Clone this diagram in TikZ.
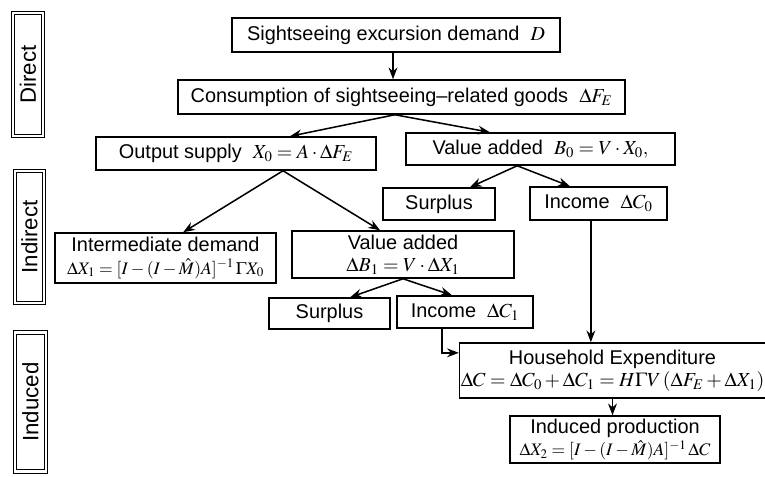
\documentclass[tikz,border=0pt]{standalone}
\usepackage{mathptmx}
\usepackage[no-math]{fontspec}
\setmainfont{Liberation Sans}
\usetikzlibrary{arrows.meta}

\newcommand\smallfml[1]{{\fontsize{15}{18}\selectfont$#1$}}

\begin{document}
\begin{tikzpicture}[x=0.03cm, y=-0.03cm,
    box/.style={draw, line width=1.3pt, inner sep=1pt, align=center,
      font=\fontsize{17}{19}\selectfont},
    stage/.style={draw, line width=1pt, double, double distance=1.8pt,
      rotate=90, font=\fontsize{19}{22}\selectfont},
    flow/.style={-{Stealth[length=10pt,width=7.5pt]}, line width=1.3pt}]
  \useasboundingbox (0,0) rectangle (765,476);

  % stages on the left
  \node[stage, minimum width=3.69cm, minimum height=0.9cm] (direct) at (28,74.5) {Direct};
  \node[stage, minimum width=3.96cm, minimum height=0.87cm] (indirect) at (29.5,237) {Indirect};
  \node[stage, minimum width=4.17cm, minimum height=0.93cm] (induced) at (30.5,402) {Induced};

  % direct effect
  \node[box, minimum width=9.84cm, minimum height=1.02cm] (demand) at (396,35)
    {Sightseeing excursion demand\ \ $D$};
  \node[box, minimum width=13.41cm, minimum height=1.02cm] (cons) at (401.5,97)
    {Consumption of sightseeing–related goods\ \ $\Delta F_E$};
  \node[box, minimum width=8.4cm, minimum height=0.99cm] (output) at (236,153.5)
    {Output supply\ \ $X_0 = A\cdot\Delta F_E$};
  \node[box, minimum width=8.07cm, minimum height=0.96cm] (va0) at (540.5,149)
    {Value added\ \ $B_0 = V\cdot X_0,$};

  % indirect effect
  \node[box, minimum width=3.36cm, minimum height=0.96cm] (surplus0) at (439,204) {Surplus};
  \node[box, minimum width=4.11cm, minimum height=0.99cm] (income0) at (598.5,203.5)
    {Income\ \ $\Delta C_0$};
  \node[box, minimum width=6.63cm, minimum height=1.5cm] (inter) at (165.5,258)
    {Intermediate demand\\ \smallfml{\Delta X_1 = [I-(I-\hat{M})A]^{-1}\,\Gamma X_0}};
  \node[box, minimum width=6.66cm, minimum height=1.41cm] (va1) at (403,254.5)
    {Value added\\ $\Delta B_1 = V\cdot\Delta X_1$};
  \node[box, minimum width=3.63cm, minimum height=0.93cm] (surplus1) at (329.5,313.5) {Surplus};
  \node[box, minimum width=4.08cm, minimum height=0.96cm] (income1) at (465,312)
    {Income\ \ $\Delta C_1$};

  % induced effect
  \node[box, minimum width=9.09cm, minimum height=1.65cm] (house) at (612.5,370.5)
    {Household Expenditure\\ $\Delta C = \Delta C_0 + \Delta C_1 = H\Gamma V\,(\Delta F_E + \Delta X_1)$};
  \node[box, minimum width=6.3cm, minimum height=1.41cm] (indprod) at (615,439.5)
    {Induced production\\ \smallfml{\Delta X_2 = [I-(I-\hat{M})A]^{-1}\,\Delta C}};

  % connectors
  \draw[flow] ([xshift=-0.09cm]demand.south) -- ([xshift=-0.09cm]demand.south |- cons.north);
  \draw[flow] ([xshift=-0.2cm]cons.south) -- ([xshift=1.62cm]output.north);
  \draw[flow] ([xshift=-0.2cm]cons.south) -- ([xshift=-1.52cm]va0.north);
  \draw[flow] ([xshift=1.41cm]output.south) -- ([xshift=0.53cm]inter.north);
  \draw[flow] ([xshift=1.41cm]output.south) -- ([xshift=-0.69cm]va1.north);
  \draw[flow] ([xshift=-0.7cm]va0.south) -- ([xshift=0.93cm]surplus0.north);
  \draw[flow] ([xshift=-0.7cm]va0.south) -- ([xshift=-0.86cm]income0.north);
  \draw[flow] (va1.south) -- ([xshift=0.62cm]surplus1.north);
  \draw[flow] (va1.south) -- ([xshift=-0.39cm]income1.north);
  \draw[flow] ([xshift=-0.23cm]income0.south) -- ([xshift=-0.23cm]income0.south |- house.north);
  \draw[flow] ([xshift=-0.69cm]income1.south) |- ([yshift=0.53cm]house.west);
  \draw[flow] (house.south) -- (house.south |- indprod.north);
\end{tikzpicture}
\end{document}
